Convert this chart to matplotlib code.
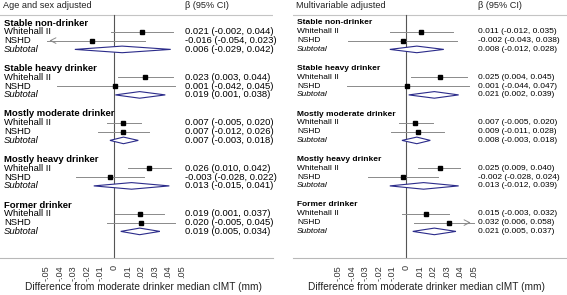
import numpy as np
from matplotlib import pyplot as plt

plt.rcParams['font.family'] = ['Liberation Sans', 'DejaVu Sans']

groups = ['Stable non-drinker', 'Stable heavy drinker', 'Mostly moderate drinker',
          'Mostly heavy drinker', 'Former drinker']
rows = ['Whitehall II', 'NSHD', 'Subtotal']
titles = ['Age and sex adjusted', 'Multivariable adjusted']

# beta, lower, upper per group: [Whitehall II, NSHD, Subtotal]
beta_age = [[0.021, -0.016, 0.006], [0.023, 0.001, 0.019], [0.007, 0.007, 0.007],
            [0.026, -0.003, 0.013], [0.019, 0.020, 0.019]]
lo_age = [[-0.002, -0.054, -0.029], [0.003, -0.042, 0.001], [-0.005, -0.012, -0.003],
          [0.010, -0.028, -0.015], [0.001, -0.005, 0.005]]
hi_age = [[0.044, 0.023, 0.042], [0.044, 0.045, 0.038], [0.020, 0.026, 0.018],
          [0.042, 0.022, 0.041], [0.037, 0.045, 0.034]]

beta_mv = [[0.011, -0.002, 0.008], [0.025, 0.001, 0.021], [0.007, 0.009, 0.008],
           [0.025, -0.002, 0.013], [0.015, 0.032, 0.021]]
lo_mv = [[-0.012, -0.043, -0.012], [0.004, -0.044, 0.002], [-0.005, -0.011, -0.003],
         [0.009, -0.028, -0.012], [-0.003, 0.006, 0.005]]
hi_mv = [[0.035, 0.038, 0.028], [0.045, 0.047, 0.039], [0.020, 0.028, 0.018],
         [0.040, 0.024, 0.039], [0.032, 0.058, 0.037]]

ticks = [-0.05, -0.04, -0.03, -0.02, -0.01, 0, 0.01, 0.02, 0.03, 0.04, 0.05]
tick_labels = ['-.05', '-.04', '-.03', '-.02', '-.01', '0', '.01', '.02', '.03', '.04', '.05']

W, H = 567, 295
SCALE = 1350.0  # pixels per unit
NAVY = '#2b2b8a'
GREY = '#8a8a8a'


def ypix(g, k):
    return 23 + 45.5 * g + 8.8 * k


def panel(fig, x0, x1, zero, vpix, label_dx, fs, title, beta, lo, hi):
    ax = fig.add_axes([x0 / W, (H - 258) / H, (x1 - x0) / W, 258 / H])
    ax.set_xlim((x0 - zero) / SCALE, (x1 - zero) / SCALE)
    ax.set_ylim(258, 0)
    for s in ['top', 'left', 'right']:
        ax.spines[s].set_visible(False)
    ax.spines['bottom'].set_color('#b8b8b8')
    ax.spines['bottom'].set_linewidth(0.8)
    ax.set_yticks([])
    ax.set_xticks(ticks)
    ax.set_xticklabels(tick_labels, rotation=90, fontsize=6.6, color='#333333')
    ax.tick_params(axis='x', length=0, pad=5)

    lx = (x0 + 4 - zero) / SCALE
    vx = (vpix - zero) / SCALE
    ax.text(lx - 1 / SCALE, 5, title, fontsize=6.6, va='center', color='#222222')
    ax.text(vx, 5, 'β (95% CI)', fontsize=6.6, va='center', color='#222222')
    ax.axhline(15, color='#c4c4c4', lw=0.8)
    ax.plot([0, 0], [15, 258], color='#555555', lw=0.8)

    for g, name in enumerate(groups):
        ax.text(lx, ypix(g, 0), name, fontsize=fs, fontweight='bold', va='center')
        for k, r in enumerate(rows):
            y = ypix(g, k + 1)
            b, l, h = beta[g][k], lo[g][k], hi[g][k]
            ax.text(lx, y, r, fontsize=fs, va='center',
                    style='italic' if k == 2 else 'normal')
            ax.text(vx, y, f'{b:.3f} ({l:.3f}, {h:.3f})', fontsize=fs, va='center')
            if k < 2:
                cl, ch = max(l, -0.05), min(h, 0.05)
                ax.plot([cl, ch], [y, y], color=GREY, lw=0.7)
                if l < -0.05:
                    ax.annotate('', xy=(cl, y), xytext=(cl + 0.006, y),
                                arrowprops=dict(arrowstyle='->', color=GREY, lw=0.7))
                if h > 0.05:
                    ax.annotate('', xy=(ch, y), xytext=(ch - 0.006, y),
                                arrowprops=dict(arrowstyle='->', color=GREY, lw=0.7))
                ax.plot([b], [y], 's', color='black', ms=3, zorder=3)
            else:
                d = 3.3
                ax.fill([l, b, h, b, l], [y, y - d, y, y + d, y], facecolor='white',
                        edgecolor=NAVY, lw=0.8, zorder=3)
    ax.text((x0 + label_dx - zero) / SCALE, 287, 'Difference from moderate drinker median cIMT (mm)',
            fontsize=7.3, ha='center', va='center', color='#222222', clip_on=False)
    return ax


fig = plt.figure(figsize=(W / 100, H / 100), dpi=100)
panel(fig, 0, 273, 114, 185, 143, 6.8, titles[0], beta_age, lo_age, hi_age)
panel(fig, 293, 567, 406, 478, 133, 6.0, titles[1], beta_mv, lo_mv, hi_mv)
fig.savefig('out.png', dpi=100)
